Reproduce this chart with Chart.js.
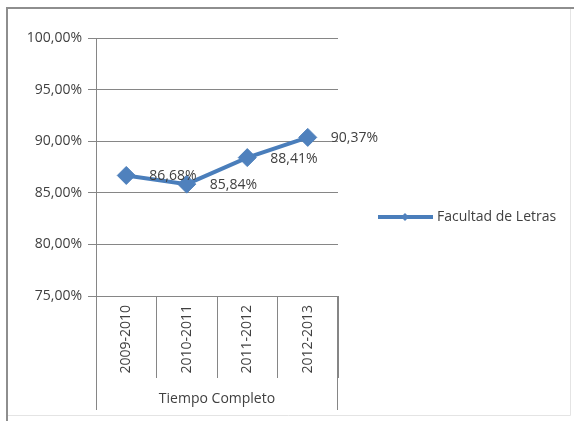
<!DOCTYPE html>
<html>
<head>
<meta charset="utf-8">
<script src="https://cdn.jsdelivr.net/npm/chart.js@4.4.1/dist/chart.umd.min.js"></script>
<style>
  html, body { margin: 0; padding: 0; background: #fff; }
</style>
</head>
<body>
<canvas id="myChart" width="574" height="421"></canvas>
<script>
const categories = ['2009-2010', '2010-2011', '2011-2012', '2012-2013'];
const groupLabel = 'Tiempo Completo';
const seriesName = 'Facultad de Letras';
const letras = [86.68, 85.84, 88.41, 90.37];
const yMin = 75, yMax = 100, yStep = 5;

const lineBlue = '#4a7ebb';
const markBlue = '#4f81bd';
const gridGray = '#868686';
const textGray = '#404040';
const fontFam = "'Open Sans', sans-serif";
const fontSize = 14;

function pct(v) {
  return v.toFixed(2).replace('.', ',') + '%';
}

//===================== frame, axis extensions, labels, legend =====================
const extras = {
  id: 'extras',
  beforeDraw(chart) {
    const c = chart.ctx;
    c.save();
    c.fillStyle = '#fff';
    c.fillRect(0, 0, chart.width, chart.height);
    c.strokeStyle = '#e4e4e4';
    c.lineWidth = 1;
    c.beginPath();
    c.moveTo(570.5, 8); c.lineTo(570.5, 415.5); c.lineTo(7, 415.5);
    c.stroke();
    c.strokeStyle = '#8e8e8e';
    c.lineWidth = 2;
    c.beginPath();
    c.moveTo(7, 421); c.lineTo(7, 8); c.lineTo(574, 8);
    c.stroke();
    c.restore();
  },
  afterDraw(chart) {
    const c = chart.ctx;
    const area = chart.chartArea;
    const xs = chart.scales.x;
    c.save();
    // outer category box lines
    c.strokeStyle = gridGray;
    c.lineWidth = 1;
    c.beginPath();
    c.moveTo(Math.round(area.left) + 0.5, area.top);
    c.lineTo(Math.round(area.left) + 0.5, xs.bottom);
    c.moveTo(Math.round(area.right) - 0.5, area.bottom);
    c.lineTo(Math.round(area.right) - 0.5, xs.bottom);
    c.stroke();

    // data labels
    const meta = chart.getDatasetMeta(0);
    c.fillStyle = textGray;
    c.font = fontSize + 'px ' + fontFam;
    c.textAlign = 'left';
    c.textBaseline = 'middle';
    meta.data.forEach((pt, i) => {
      c.fillText(pct(letras[i]), pt.x + 23, pt.y + 1);
    });

    // legend
    const lx = area.right + 40;
    const ly = Math.round(chart.height / 2) + 6;
    c.strokeStyle = lineBlue;
    c.lineWidth = 4;
    c.beginPath();
    c.moveTo(lx, ly); c.lineTo(lx + 55, ly);
    c.stroke();
    c.fillStyle = markBlue;
    c.beginPath();
    const mx = lx + 27, r = 4;
    c.moveTo(mx, ly - r); c.lineTo(mx + r, ly); c.lineTo(mx, ly + r); c.lineTo(mx - r, ly);
    c.closePath();
    c.fill();
    c.fillStyle = textGray;
    c.font = fontSize + 'px ' + fontFam;
    c.fillText(seriesName, lx + 59, ly);
    c.restore();
  }
};

const ctx = document.getElementById('myChart').getContext('2d');
const chart = new Chart(ctx, {
  type: 'line',
  data: {
    labels: categories,
    datasets: [{
      label: seriesName,
      data: letras,
      borderColor: lineBlue,
      borderWidth: 4,
      backgroundColor: markBlue,
      pointStyle: 'rectRot',
      pointRadius: 9,
      pointBorderWidth: 1,
      pointBorderColor: markBlue,
      pointBackgroundColor: markBlue,
      tension: 0
    }]
  },
  options: {
    responsive: false,
    animation: false,
    devicePixelRatio: 1,
    layout: { padding: { left: 0, top: 38, right: 236, bottom: 11 } },
    plugins: {
      legend: { display: false },
      tooltip: { enabled: false }
    },
    scales: {
      x: {
        type: 'category',
        offset: true,
        grid: {
          offset: true,
          drawOnChartArea: false,
          drawTicks: true,
          tickLength: 82,
          color: gridGray
        },
        border: { display: true, color: gridGray },
        ticks: {
          minRotation: 90,
          maxRotation: 90,
          padding: -73,
          color: textGray,
          font: { family: fontFam, size: fontSize }
        },
        title: {
          display: true,
          text: groupLabel,
          color: textGray,
          font: { family: fontFam, size: fontSize },
          padding: { top: 4, bottom: 3 }
        },
        afterFit(s) { s.height = 114; }
      },
      y: {
        min: yMin,
        max: yMax,
        grid: { color: gridGray, tickLength: 8 },
        border: { display: true, color: gridGray },
        ticks: {
          stepSize: yStep,
          padding: 6,
          color: textGray,
          font: { family: fontFam, size: fontSize },
          callback: v => pct(v)
        },
        afterFit(s) { s.width = 96; }
      }
    }
  },
  plugins: [extras]
});
</script>
</body>
</html>
